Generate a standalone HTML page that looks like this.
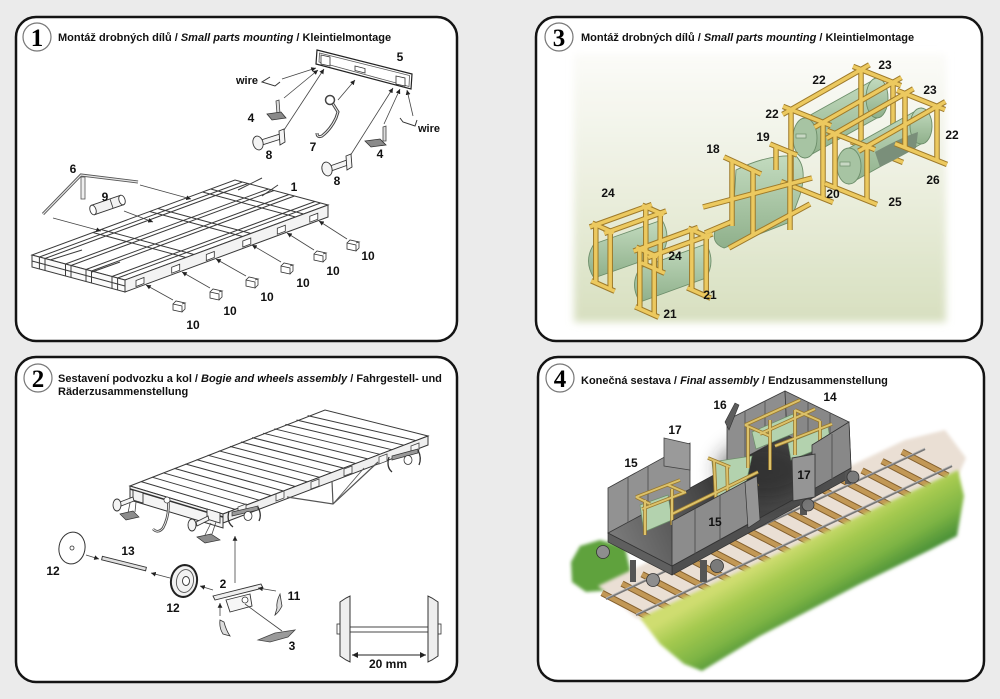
<!DOCTYPE html>
<html><head><meta charset="utf-8"><title>Assembly</title>
<style>
html,body{margin:0;padding:0;background:#ebebeb;}
svg{display:block}
.t{font-family:"Liberation Sans",Arial,sans-serif;font-weight:bold;font-size:11px;fill:#111}
.n{font-family:"Liberation Sans",Arial,sans-serif;font-weight:bold;font-size:12px;fill:#111;text-anchor:middle}
.c{font-family:"Liberation Serif",serif;font-weight:bold;font-size:25px;fill:#000;text-anchor:middle}
.la{fill:none;stroke:#3a3a3a;stroke-width:1}
.lf{fill:#fff;stroke:#3a3a3a;stroke-width:1}
.gd{fill:none;stroke:#444;stroke-width:0.8}
</style></head><body>
<svg width="1000" height="699" viewBox="0 0 1000 699" xmlns="http://www.w3.org/2000/svg">
<defs>
<marker id="ar" viewBox="0 0 6 6" refX="6" refY="3" markerWidth="6" markerHeight="6" orient="auto-start-reverse"><path d="M0,0L6,3L0,6z" fill="#222"/></marker>
<linearGradient id="g3" x1="0" y1="0" x2="0" y2="1"><stop offset="0" stop-color="#fbfbf8"/><stop offset="0.45" stop-color="#edf0e1"/><stop offset="1" stop-color="#d7dfbf"/></linearGradient>
<filter id="bl" x="-5%" y="-5%" width="110%" height="110%"><feGaussianBlur stdDeviation="4"/></filter>
<filter id="bl2" x="-30%" y="-30%" width="160%" height="160%"><feGaussianBlur stdDeviation="10"/></filter>
<filter id="bl1" x="-5%" y="-5%" width="110%" height="110%"><feGaussianBlur stdDeviation="1.5"/></filter>
<linearGradient id="tank" x1="0" y1="0" x2="0" y2="1"><stop offset="0" stop-color="#c3dbbf"/><stop offset="1" stop-color="#8fb08b"/></linearGradient>
<linearGradient id="grass" gradientUnits="userSpaceOnUse" x1="795" y1="545" x2="830" y2="606"><stop offset="0" stop-color="#cfdd70"/><stop offset="0.3" stop-color="#a6ca50"/><stop offset="0.7" stop-color="#7db444"/><stop offset="1" stop-color="#4c9238"/></linearGradient>
<linearGradient id="floor" gradientUnits="userSpaceOnUse" x1="610" y1="540" x2="850" y2="440"><stop offset="0" stop-color="#7c7c7c"/><stop offset="0.45" stop-color="#3e3e3e"/><stop offset="1" stop-color="#5c5c5c"/></linearGradient>

<g id="cr3">
<line x1="592.2" y1="223.2" x2="613.8" y2="232.8"/>
<line x1="595.8" y1="224.8" x2="595.8" y2="282.8"/>
<line x1="610.2" y1="231.2" x2="610.2" y2="289.2"/>
<line x1="591.3" y1="280.8" x2="614.7" y2="291.2"/>
<line x1="642.2" y1="205.2" x2="663.8" y2="214.8"/>
<line x1="645.8" y1="206.8" x2="645.8" y2="264.8"/>
<line x1="660.2" y1="213.2" x2="660.2" y2="271.2"/>
<line x1="641.3" y1="262.8" x2="664.7" y2="273.2"/>
<line x1="589.8" y1="227" x2="651.8" y2="204.6"/>
<line x1="604.2" y1="233.4" x2="666.2" y2="211"/>
<line x1="636.2" y1="247.2" x2="657.8" y2="256.8"/>
<line x1="639.8" y1="248.8" x2="639.8" y2="308.8"/>
<line x1="654.2" y1="255.2" x2="654.2" y2="315.2"/>
<line x1="635.3" y1="306.8" x2="658.7" y2="317.2"/>
<line x1="688.2" y1="228.2" x2="709.8" y2="237.8"/>
<line x1="691.8" y1="229.8" x2="691.8" y2="289.8"/>
<line x1="706.2" y1="236.2" x2="706.2" y2="296.2"/>
<line x1="687.3" y1="287.8" x2="710.7" y2="298.2"/>
<line x1="633.6" y1="251.1" x2="698" y2="227.5"/>
<line x1="648" y1="257.5" x2="712.4" y2="233.9"/>
<line x1="724" y1="157" x2="761" y2="174"/>
<line x1="770" y1="144" x2="797" y2="155"/>
<line x1="732" y1="160" x2="732" y2="226"/>
<line x1="753" y1="169" x2="753" y2="236"/>
<line x1="790" y1="151" x2="790" y2="230"/>
<line x1="776" y1="147" x2="776" y2="170"/>
<line x1="703" y1="207" x2="812" y2="178"/>
<line x1="729" y1="248" x2="810" y2="204"/>
<line x1="705" y1="233" x2="731" y2="222"/>
</g>
<g id="crR1">
<line x1="783" y1="106.4" x2="831" y2="125.6"/>
<line x1="791" y1="109.6" x2="791" y2="185.6"/>
<line x1="823" y1="122.4" x2="823" y2="198.4"/>
<line x1="781" y1="181.6" x2="833" y2="202.4"/>
<line x1="853" y1="66.4" x2="901" y2="85.6"/>
<line x1="861" y1="69.6" x2="861" y2="145.6"/>
<line x1="893" y1="82.4" x2="893" y2="158.4"/>
<line x1="851" y1="141.6" x2="903" y2="162.4"/>
<line x1="782.6" y1="114.4" x2="869.4" y2="64.8"/>
<line x1="814.6" y1="127.2" x2="901.4" y2="77.6"/>
</g>
<g id="crR2">
<line x1="827" y1="130.4" x2="875" y2="149.6"/>
<line x1="835" y1="133.6" x2="835" y2="187.6"/>
<line x1="867" y1="146.4" x2="867" y2="200.4"/>
<line x1="825" y1="183.6" x2="877" y2="204.4"/>
<line x1="897" y1="90.4" x2="945" y2="109.6"/>
<line x1="905" y1="93.6" x2="905" y2="147.6"/>
<line x1="937" y1="106.4" x2="937" y2="160.4"/>
<line x1="895" y1="143.6" x2="947" y2="164.4"/>
<line x1="826.6" y1="138.4" x2="913.4" y2="88.8"/>
<line x1="858.6" y1="151.2" x2="945.4" y2="101.6"/>
</g>
<g id="cr4">
<line x1="636" y1="497" x2="680" y2="480"/>
<line x1="642" y1="509" x2="686" y2="492"/>
<line x1="636" y1="497" x2="650" y2="504"/>
<line x1="668" y1="485" x2="684" y2="492"/>
<line x1="645" y1="500" x2="645" y2="535"/>
<line x1="672" y1="489" x2="672" y2="525"/>
<line x1="708" y1="458" x2="730" y2="467"/>
<line x1="714" y1="460" x2="716" y2="503"/>
<line x1="727" y1="465" x2="728" y2="506"/>
<line x1="672" y1="514" x2="758" y2="472"/>
<line x1="680" y1="524" x2="758" y2="484"/>
<line x1="745" y1="425" x2="800" y2="400"/>
<line x1="760" y1="434" x2="815" y2="409"/>
<line x1="745" y1="425" x2="770" y2="436"/>
<line x1="795" y1="410" x2="820" y2="421"/>
<line x1="748" y1="426" x2="748" y2="468"/>
<line x1="770" y1="420" x2="770" y2="470"/>
<line x1="795" y1="410" x2="795" y2="455"/>
<line x1="820" y1="421" x2="820" y2="460"/>
<line x1="775" y1="446" x2="832" y2="424"/>
</g>
<g id="slp">
<line x1="602" y1="593" x2="650" y2="618"/>
<line x1="622" y1="583.6" x2="670" y2="608.6"/>
<line x1="642" y1="574.2" x2="690" y2="599.2"/>
<line x1="662" y1="564.7" x2="710" y2="589.7"/>
<line x1="682" y1="555.3" x2="730" y2="580.3"/>
<line x1="702" y1="545.9" x2="750" y2="570.9"/>
<line x1="722" y1="536.5" x2="770" y2="561.5"/>
<line x1="742" y1="527.1" x2="790" y2="552.1"/>
<line x1="762" y1="517.6" x2="810" y2="542.6"/>
<line x1="782" y1="508.2" x2="830" y2="533.2"/>
<line x1="802" y1="498.8" x2="850" y2="523.8"/>
<line x1="822" y1="489.4" x2="870" y2="514.4"/>
<line x1="842" y1="480" x2="890" y2="505"/>
<line x1="862" y1="470.5" x2="910" y2="495.5"/>
<line x1="882" y1="461.1" x2="930" y2="486.1"/>
<line x1="902" y1="451.7" x2="948" y2="475.7"/>
</g>
</defs>

<!-- PANELS -->
<rect x="16" y="17" width="441" height="324" rx="20" fill="#fff" stroke="#141414" stroke-width="2.5"/>
<rect x="536" y="17" width="446" height="324" rx="20" fill="#fff" stroke="#141414" stroke-width="2.5"/>
<rect x="16" y="357" width="441" height="325" rx="20" fill="#fff" stroke="#141414" stroke-width="2.5"/>
<rect x="538" y="357" width="446" height="324" rx="20" fill="#fff" stroke="#141414" stroke-width="2.5"/>

<circle cx="37" cy="37" r="14" fill="#fff" stroke="#777" stroke-width="1.2"/>
<text class="c" x="37" y="46">1</text>
<text class="t" x="58" y="41">Montáž drobných dílů / <tspan font-style="italic">Small parts mounting</tspan> / Kleintielmontage</text>

<circle cx="559" cy="37" r="14" fill="#fff" stroke="#777" stroke-width="1.2"/>
<text class="c" x="559" y="46">3</text>
<text class="t" x="581" y="41">Montáž drobných dílů / <tspan font-style="italic">Small parts mounting</tspan> / Kleintielmontage</text>

<circle cx="38" cy="378" r="14" fill="#fff" stroke="#777" stroke-width="1.2"/>
<text class="c" x="38" y="387">2</text>
<text class="t" x="58" y="382">Sestavení podvozku a kol / <tspan font-style="italic">Bogie and wheels assembly</tspan> / Fahrgestell- und</text>
<text class="t" x="58" y="395">Räderzusammenstellung</text>

<circle cx="560" cy="378" r="14" fill="#fff" stroke="#777" stroke-width="1.2"/>
<text class="c" x="560" y="387">4</text>
<text class="t" x="581" y="384">Konečná sestava / <tspan font-style="italic">Final assembly</tspan> / Endzusammenstellung</text>

<!-- ========== PANEL 1 ========== -->
<g>
<polygon class="lf" points="32,255 125,280 328,205 235,180"/>
<polygon points="125,280 328,205 328,217 125,292" fill="#f3f3f3" stroke="#3a3a3a" stroke-width="1"/>
<polygon points="32,255 125,280 125,292 32,267" fill="#fafafa" stroke="#3a3a3a" stroke-width="1"/>
<g class="la" stroke-width="0.8">
<line x1="39.4" y1="257" x2="242.4" y2="182"/>
<line x1="45" y1="258.5" x2="248" y2="183.5"/>
<line x1="65.5" y1="264" x2="268.5" y2="189"/>
<line x1="71" y1="265.5" x2="274" y2="190.5"/>
<line x1="86" y1="269.5" x2="289" y2="194.5"/>
<line x1="91.5" y1="271" x2="294.5" y2="196"/>
<line x1="112" y1="276.5" x2="315" y2="201.5"/>
<line x1="117.6" y1="278" x2="320.6" y2="203"/>
<line x1="92.9" y1="232.5" x2="185.9" y2="257.5"/>
<line x1="101" y1="229.5" x2="194" y2="254.5"/>
<line x1="149.7" y1="211.5" x2="242.7" y2="236.5"/>
<line x1="157.9" y1="208.5" x2="250.9" y2="233.5"/>
<line x1="202.5" y1="192" x2="295.5" y2="217"/>
<line x1="210.6" y1="189" x2="303.6" y2="214"/>
<line x1="50" y1="260" x2="82" y2="250"/>
<line x1="92" y1="272" x2="120" y2="262"/>
<line x1="238" y1="190" x2="262" y2="178"/>
<line x1="262" y1="196" x2="278" y2="185"/>
<line x1="39.4" y1="257" x2="39.4" y2="269"/>
<line x1="45" y1="258.5" x2="45" y2="270.5"/>
<line x1="65.5" y1="264" x2="65.5" y2="276"/>
<line x1="71" y1="265.5" x2="71" y2="277.5"/>
<line x1="86" y1="269.5" x2="86" y2="281.5"/>
<line x1="91.5" y1="271" x2="91.5" y2="283"/>
<line x1="112" y1="276.5" x2="112" y2="288.5"/>
<line x1="117.6" y1="278" x2="117.6" y2="290"/>
<line x1="32" y1="261" x2="125" y2="286"/>
</g>
<g fill="#fff" stroke="#333" stroke-width="0.8">
<polygon points="136,280.5 144,277.5 144,283.5 136,286.5"/>
<polygon points="171.7,267.2 179.7,264.2 179.7,270.2 171.7,273.2"/>
<polygon points="206.3,254.5 214.3,251.5 214.3,257.5 206.3,260.5"/>
<polygon points="242.8,241 250.8,238 250.8,244 242.8,247"/>
<polygon points="277.3,228.2 285.3,225.2 285.3,231.2 277.3,234.2"/>
<polygon points="309.8,216.2 317.8,213.2 317.8,219.2 309.8,222.2"/>
</g>
<g fill="#fff" stroke="#333" stroke-width="0.8">
<path d="M173,304 l9,2 l0,6 l-9,-2 z M173,304 l3,-3 l9,2 l-3,1 M185,303 l0,6 l-3,3"/>
<path d="M210,292 l9,2 l0,6 l-9,-2 z M210,292 l3,-3 l9,2 l-3,1 M222,291 l0,6 l-3,3"/>
<path d="M246,280 l9,2 l0,6 l-9,-2 z M246,280 l3,-3 l9,2 l-3,1 M258,279 l0,6 l-3,3"/>
<path d="M281,266 l9,2 l0,6 l-9,-2 z M281,266 l3,-3 l9,2 l-3,1 M293,265 l0,6 l-3,3"/>
<path d="M314,254 l9,2 l0,6 l-9,-2 z M314,254 l3,-3 l9,2 l-3,1 M326,253 l0,6 l-3,3"/>
<path d="M347,243 l9,2 l0,6 l-9,-2 z M347,243 l3,-3 l9,2 l-3,1 M359,242 l0,6 l-3,3"/>
</g>
<g class="gd" marker-end="url(#ar)">
<line x1="173" y1="300" x2="146" y2="285"/>
<line x1="210" y1="288" x2="182" y2="272"/>
<line x1="246" y1="276" x2="216" y2="259"/>
<line x1="281" y1="262" x2="252" y2="245"/>
<line x1="314" y1="250" x2="287" y2="233"/>
<line x1="347" y1="239" x2="319" y2="221"/>
<line x1="140" y1="185" x2="191" y2="199"/>
<line x1="53" y1="218" x2="101" y2="231"/>
<line x1="124" y1="211" x2="153" y2="222"/>
<line x1="282" y1="79" x2="316" y2="68"/>
<line x1="284" y1="98" x2="318" y2="70"/>
<line x1="284" y1="130" x2="324" y2="69"/>
<line x1="338" y1="100" x2="355" y2="80"/>
<line x1="350" y1="156" x2="393" y2="88"/>
<line x1="384" y1="124" x2="400" y2="89"/>
<line x1="413" y1="116" x2="407" y2="90"/>
</g>
<text class="n" x="193" y="329">10</text>
<text class="n" x="230" y="315">10</text>
<text class="n" x="267" y="301">10</text>
<text class="n" x="303" y="287">10</text>
<text class="n" x="333" y="275">10</text>
<text class="n" x="368" y="260">10</text>
<polyline points="43,214 81,175 138,182" fill="none" stroke="#555" stroke-width="3"/>
<polyline points="43,214 81,175 138,182" fill="none" stroke="#e6e6e6" stroke-width="1.2"/>
<rect x="81" y="177" width="4" height="22" fill="#eee" stroke="#555" stroke-width="0.8"/>
<text class="n" x="73" y="173">6</text>
<polygon points="91.4,205.3 120.4,195.3 123.6,204.7 94.6,214.7" fill="#f2f2f2" stroke="#333" stroke-width="0.9"/>
<ellipse cx="93" cy="210" rx="3" ry="5" transform="rotate(-19 93 210)" fill="#fff" stroke="#333" stroke-width="0.9"/>
<ellipse cx="122" cy="200" rx="3" ry="5" transform="rotate(-19 122 200)" fill="#fff" stroke="#333" stroke-width="0.9"/>
<line x1="110" y1="199" x2="113" y2="208" stroke="#333" stroke-width="0.8"/>
<text class="n" x="105" y="201">9</text>
<text class="n" x="294" y="191">1</text>
<polygon points="317,50 412,74 411,89 316,64" fill="#fff" stroke="#222" stroke-width="1.2"/>
<polygon points="319.5,53 409.5,75.5 409,86.5 319,62" fill="none" stroke="#555" stroke-width="0.8"/>
<polygon points="321,55 330,57 330,66 321,64" fill="#fff" stroke="#333" stroke-width="0.8"/>
<polygon points="355,66 365,68.5 365,73 355,70.5" fill="#fff" stroke="#333" stroke-width="0.8"/>
<polygon points="396,76 405,78 405,86 396,84" fill="#fff" stroke="#333" stroke-width="0.8"/>
<text class="n" x="400" y="61">5</text>
<polyline points="270,77 262,82 275,86 280,82" fill="none" stroke="#333" stroke-width="1"/>
<polyline points="400,118 403,122 415,126 417,120" fill="none" stroke="#333" stroke-width="1"/>
<text class="n" x="247" y="84" style="font-size:11px">wire</text>
<text class="n" x="429" y="132" style="font-size:11px">wire</text>
<polygon points="276,101 279,100 280,114 277,114" fill="#ddd" stroke="#444" stroke-width="0.8"/>
<polygon points="267,114 281,112 286,118 272,120" fill="#8a8a8a" stroke="#333" stroke-width="0.8"/>
<polygon points="383,127 386,126 386,141 383,141" fill="#ddd" stroke="#444" stroke-width="0.8"/>
<polygon points="365,141 380,139 386,145 371,147" fill="#8a8a8a" stroke="#333" stroke-width="0.8"/>
<text class="n" x="251" y="122">4</text>
<text class="n" x="380" y="158">4</text>
<g fill="#f4f4f4" stroke="#333" stroke-width="0.9">
<polygon points="261,140 280,134 281,139 262,145"/>
<polygon points="279,131 284,129 285,142 280,145"/>
<ellipse cx="258" cy="143" rx="5" ry="7" transform="rotate(-15 258 143)"/>
<polygon points="330,166 347,160 348,165 331,171"/>
<polygon points="346,156 351,154 352,167 347,170"/>
<ellipse cx="327" cy="169" rx="5" ry="7" transform="rotate(-15 327 169)"/>
</g>
<text class="n" x="269" y="159">8</text>
<text class="n" x="337" y="185">8</text>
<circle cx="330" cy="100" r="4.5" fill="none" stroke="#444" stroke-width="1.5"/>
<path d="M333,104 L338,112 L336,118 Q331,129 322,136 Q317,138 317,133" fill="none" stroke="#444" stroke-width="3"/>
<path d="M333,104 L338,112 L336,118 Q331,129 322,136 Q317,138 317,133" fill="none" stroke="#eee" stroke-width="1"/>
<text class="n" x="313" y="151">7</text>
</g>

<!-- ========== PANEL 3 ========== -->
<rect x="574" y="54" width="372" height="268" fill="url(#g3)" filter="url(#bl)"/>
<g fill="url(#tank)" stroke="#6d8e6a" stroke-width="0.9">
<path d="M594,244 L662,220 Q672,237 662,254 L594,278 Q583,261 594,244 Z"/>
<path d="M736,170 Q768,154 796,156 Q808,168 800,195 L790,222 L724,248 Q710,243 716,228 L733,218 Z"/>
<path d="M805,118 L877,78 L877,118 L805,158 Z"/>
<ellipse cx="877" cy="98" rx="11" ry="20"/>
<ellipse cx="805" cy="138" rx="12" ry="20" fill="#a7c4a3"/>
</g>
<rect x="796" y="134" width="10" height="4" fill="#c8d8c4" stroke="#6d8e6a" stroke-width="0.7"/>
<use href="#crR1" stroke="#9e7a2a" stroke-width="5.5"/>
<use href="#crR1" stroke="#ecc95f" stroke-width="3.5"/>
<g fill="url(#tank)" stroke="#6d8e6a" stroke-width="0.9">
<path d="M849,148 L921,108 L921,144 L849,184 Z"/>
<ellipse cx="921" cy="126" rx="11" ry="18"/>
<path d="M875,152 Q900,138 918,132 L916,148 Q895,160 880,167 Z" fill="#7a8f7a" stroke="none"/>
<ellipse cx="849" cy="166" rx="12" ry="18" fill="#a7c4a3"/>
</g>
<rect x="840" y="162" width="10" height="4" fill="#c8d8c4" stroke="#6d8e6a" stroke-width="0.7"/>
<use href="#crR2" stroke="#9e7a2a" stroke-width="5.5"/>
<use href="#crR2" stroke="#ecc95f" stroke-width="3.5"/>
<g fill="url(#tank)" stroke="#6d8e6a" stroke-width="0.9">
<path d="M640,268 L706,244 Q716,261 706,278 L640,302 Q629,285 640,268 Z"/>
</g>
<use href="#cr3" stroke="#9e7a2a" stroke-width="5.5"/>
<use href="#cr3" stroke="#ecc95f" stroke-width="3.5"/>
<text class="n" x="885" y="69">23</text>
<text class="n" x="819" y="84">22</text>
<text class="n" x="930" y="94">23</text>
<text class="n" x="772" y="118">22</text>
<text class="n" x="952" y="139">22</text>
<text class="n" x="763" y="141">19</text>
<text class="n" x="713" y="153">18</text>
<text class="n" x="933" y="184">26</text>
<text class="n" x="833" y="198">20</text>
<text class="n" x="895" y="206">25</text>
<text class="n" x="608" y="197">24</text>
<text class="n" x="675" y="260">24</text>
<text class="n" x="710" y="299">21</text>
<text class="n" x="670" y="318">21</text>

<!-- ========== PANEL 2 ========== -->
<g>
<polygon class="lf" points="130,486 223,514 428,436 325,410"/>
<polygon points="130,486 223,514 223,528 130,500" fill="#f4f4f4" stroke="#333" stroke-width="1"/>
<line x1="130" y1="489" x2="223" y2="517" stroke="#333" stroke-width="1.5"/>
<polygon points="223,514 428,436 428,445 223,523" fill="#efefef" stroke="#333" stroke-width="1"/>
<g class="la" stroke-width="0.7">
<line x1="141.1" y1="481.6" x2="235.1" y2="509.4"/>
<line x1="152.2" y1="477.2" x2="247.1" y2="504.8"/>
<line x1="163.3" y1="472.8" x2="259.2" y2="500.2"/>
<line x1="174.4" y1="468.4" x2="271.2" y2="495.6"/>
<line x1="185.5" y1="464" x2="283.3" y2="491"/>
<line x1="196.6" y1="459.6" x2="295.4" y2="486.5"/>
<line x1="207.7" y1="455.2" x2="307.4" y2="481.9"/>
<line x1="218.8" y1="450.8" x2="319.5" y2="477.3"/>
<line x1="229.9" y1="446.4" x2="331.5" y2="472.7"/>
<line x1="241" y1="442" x2="343.6" y2="468.1"/>
<line x1="252.1" y1="437.6" x2="355.7" y2="463.5"/>
<line x1="263.2" y1="433.2" x2="367.7" y2="458.9"/>
<line x1="274.3" y1="428.8" x2="379.8" y2="454.3"/>
<line x1="285.4" y1="424.4" x2="391.8" y2="449.7"/>
<line x1="296.5" y1="420" x2="403.9" y2="445.2"/>
<line x1="307.6" y1="415.6" x2="416" y2="440.6"/>
</g>
<g fill="#f6f6f6" stroke="#444" stroke-width="0.8">
<polygon points="238,507 246,504 246,511 238,514"/>
<polygon points="276,494 284,491 284,498 276,501"/>
<polygon points="311,482 319,479 319,486 311,489"/>
<polygon points="344,469 352,466 352,473 344,476"/>
<polygon points="379,457 387,454 387,461 379,464"/>
<polygon points="411,446 419,443 419,450 411,453"/>
</g>
<polyline points="287,497 333,504 378,462" fill="none" stroke="#555" stroke-width="1.2"/>
<line x1="333" y1="504" x2="364" y2="468" stroke="#555" stroke-width="0.9"/>
<line x1="332" y1="481" x2="333" y2="504" stroke="#555" stroke-width="1.2"/>
<g fill="#f4f4f4" stroke="#333" stroke-width="0.9">
<polygon points="133,490 143,493 143,503 133,500"/>
<polygon points="120,502 133,497 134,501 121,506"/>
<ellipse cx="117" cy="505" rx="4" ry="6"/>
<polygon points="207,509 220,513 220,523 207,519"/>
<polygon points="196,522 208,516 209,520 197,526"/>
<ellipse cx="192" cy="525" rx="4" ry="6"/>
</g>
<g stroke="#444" stroke-width="0.8">
<line x1="130" y1="503" x2="128" y2="513"/><line x1="136" y1="502" x2="135" y2="512"/>
<line x1="211" y1="523" x2="205" y2="535"/><line x1="216" y1="522" x2="212" y2="534"/>
</g>
<polygon points="120,514 133,511 139,517 126,520" fill="#8c8c8c" stroke="#333" stroke-width="0.7"/>
<polygon points="197,537 211,534 220,540 205,543" fill="#8c8c8c" stroke="#333" stroke-width="0.7"/>
<path d="M168,499 Q170,515 163,528 Q158,534 153,529" fill="none" stroke="#444" stroke-width="2.6"/>
<path d="M168,499 Q170,515 163,528 Q158,534 153,529" fill="none" stroke="#f0f0f0" stroke-width="0.9"/>
<circle cx="167" cy="500" r="3" fill="#fff" stroke="#444" stroke-width="0.8"/>
<polygon points="232,512 258,506 258,510 232,516" fill="#999" stroke="#333" stroke-width="0.7"/>
<ellipse cx="248" cy="516" rx="4" ry="4.5" fill="#fff" stroke="#333" stroke-width="0.8"/>
<path d="M229,511 Q226,522 233,527 M258,507 Q262,515 259,521" fill="none" stroke="#333" stroke-width="1.3"/>
<polygon points="392,456 418,449 418,453 392,460" fill="#999" stroke="#333" stroke-width="0.7"/>
<ellipse cx="408" cy="460" rx="4" ry="4.5" fill="#fff" stroke="#333" stroke-width="0.8"/>
<path d="M389,457 Q386,467 392,472 M418,450 Q422,458 419,465" fill="none" stroke="#333" stroke-width="1.3"/>
<ellipse cx="72" cy="548" rx="13" ry="16" transform="rotate(10 72 548)" fill="#fff" stroke="#333" stroke-width="1"/>
<circle cx="72" cy="548" r="2" fill="#fff" stroke="#333" stroke-width="0.8"/>
<polygon points="102.4,556.3 146.4,567.3 145.6,570.8 101.6,559.8" fill="#e0e0e0" stroke="#333" stroke-width="0.9"/>
<ellipse cx="184" cy="581" rx="13" ry="16" transform="rotate(10 184 581)" fill="#f2f2f2" stroke="#222" stroke-width="2"/>
<ellipse cx="185" cy="581" rx="8.5" ry="11.5" transform="rotate(10 185 581)" fill="none" stroke="#555" stroke-width="0.9"/>
<ellipse cx="186" cy="581" rx="3.5" ry="4.5" fill="#fff" stroke="#333" stroke-width="0.9"/>
<polygon points="213,596 261,584 263,588 215,600" fill="#eee" stroke="#333" stroke-width="0.9"/>
<polygon points="226,600 250,594 252,606 230,612" fill="#f6f6f6" stroke="#333" stroke-width="0.9"/>
<circle cx="245" cy="600" r="3" fill="#fff" stroke="#333" stroke-width="0.8"/>
<path d="M280,594 Q276,602 277,608 L275,615 Q279,612 282,606 Z" fill="#ddd" stroke="#333" stroke-width="0.8"/>
<path d="M220,620 Q219,628 223,634 L230,636 Q226,630 224,622 Z" fill="#ddd" stroke="#333" stroke-width="0.8"/>
<line x1="245" y1="604" x2="282" y2="631" stroke="#444" stroke-width="0.8"/>
<polygon points="258,640 275,633 295,630 288,637 270,642" fill="#9a9a9a" stroke="#444" stroke-width="0.8"/>
<g class="gd" marker-end="url(#ar)">
<line x1="86" y1="555" x2="99" y2="559"/>
<line x1="170" y1="578" x2="151" y2="573"/>
<line x1="213" y1="590" x2="200" y2="586"/>
<line x1="235" y1="583" x2="235" y2="536"/>
<line x1="276" y1="591" x2="258" y2="588"/>
<line x1="220" y1="616" x2="220" y2="603"/>
</g>
<text class="n" x="53" y="575">12</text>
<text class="n" x="128" y="555">13</text>
<text class="n" x="173" y="612">12</text>
<text class="n" x="223" y="588">2</text>
<text class="n" x="294" y="600">11</text>
<text class="n" x="292" y="650">3</text>
<rect x="337" y="624" width="5" height="10" fill="#fff" stroke="#333" stroke-width="0.8"/>
<rect x="436" y="624" width="5" height="10" fill="#fff" stroke="#333" stroke-width="0.8"/>
<rect x="350" y="627" width="78" height="5" fill="#fff" stroke="#333" stroke-width="0.9"/>
<polygon points="340,602 346,598 350,596 350,662 346,660 340,656" fill="#eee" stroke="#333" stroke-width="1"/>
<polygon points="438,602 432,598 428,596 428,662 432,660 438,656" fill="#eee" stroke="#333" stroke-width="1"/>
<line x1="352" y1="655" x2="426" y2="655" stroke="#222" stroke-width="1" marker-start="url(#ar)" marker-end="url(#ar)"/>
<text class="n" x="388" y="668">20 mm</text>
</g>

<!-- ========== PANEL 4 ========== -->
<g>
<polygon points="571,562 580,546 600,540 625,547 631,574 614,590 586,592 572,582" fill="#5ea23c" filter="url(#bl1)"/>
<polygon points="598,586 905,440 945,430 966,458 958,476 652,622 636,618" fill="#eadfd4" filter="url(#bl1)"/>
<use href="#slp" stroke="#84602e" stroke-width="6.5"/>
<use href="#slp" stroke="#c29856" stroke-width="4.5"/>
<line x1="606" y1="599" x2="925" y2="449" stroke="#777" stroke-width="2.2"/>
<line x1="636" y1="615" x2="952" y2="466" stroke="#777" stroke-width="2.2"/>
<line x1="606" y1="598" x2="925" y2="448" stroke="#bbb" stroke-width="0.8"/>
<line x1="636" y1="614" x2="952" y2="465" stroke="#bbb" stroke-width="0.8"/>
<polygon points="640,618 958,470 964,496 957,536 930,550 860,584 760,636 702,671 684,664 660,644" fill="url(#grass)" filter="url(#bl1)"/>
<!-- wagon chassis -->
<polygon points="672,566 851,468 851,477 672,575" fill="#4f4f4f" stroke="#333" stroke-width="0.7"/>
<polygon points="608,533 672,566 672,575 608,542" fill="#5f5f5f" stroke="#333" stroke-width="0.7"/>
<rect x="630" y="560" width="6" height="22" fill="#555"/>
<rect x="700" y="560" width="7" height="22" fill="#555"/>
<rect x="800" y="495" width="7" height="20" fill="#555"/>
<rect x="845" y="468" width="6" height="16" fill="#555"/>
<circle cx="603" cy="552" r="6.5" fill="#8e8e8e" stroke="#333" stroke-width="0.8"/>
<circle cx="653" cy="580" r="6.5" fill="#8e8e8e" stroke="#333" stroke-width="0.8"/>
<circle cx="717" cy="566" r="6.5" fill="#7a7a7a" stroke="#333" stroke-width="0.8"/>
<circle cx="808" cy="505" r="6" fill="#7a7a7a" stroke="#333" stroke-width="0.8"/>
<circle cx="853" cy="477" r="6" fill="#7a7a7a" stroke="#333" stroke-width="0.8"/>
<polygon points="608,533 787,435 851,468 672,566" fill="url(#floor)" stroke="#333" stroke-width="0.8"/>
<ellipse cx="765" cy="470" rx="48" ry="30" fill="#222" opacity="0.55" filter="url(#bl2)"/>
<!-- back walls -->
<polygon points="608,488 690,443 690,489 608,533" fill="#929292" stroke="#3a3a3a" stroke-width="0.8"/>
<polygon points="664,438 690,444 690,470 664,466" fill="#9a9a9a" stroke="#444" stroke-width="0.8"/>
<polygon points="727,420 785,391 787,435 727,467" fill="#8e8e8e" stroke="#3a3a3a" stroke-width="0.8"/>
<polygon points="725,422 735,403 739,405 729,430" fill="#5c5c5c" stroke="#333" stroke-width="0.6"/>
<polygon points="785,391 849,422 851,468 787,435" fill="#888" stroke="#3a3a3a" stroke-width="0.8"/>
<g stroke="#5e5e5e" stroke-width="1.1">
<line x1="628" y1="477" x2="628" y2="522"/>
<line x1="648" y1="466" x2="648" y2="511"/>
<line x1="745" y1="411" x2="745" y2="457.4"/>
<line x1="765" y1="401" x2="765" y2="446.7"/>
<line x1="808" y1="402.8" x2="808" y2="445.8"/>
<line x1="830" y1="413.5" x2="830" y2="457.2"/>
</g>
<g fill="#b3d2ae" stroke="#6d8e6a" stroke-width="0.7">
<polygon points="640,505 668,495 672,520 644,532"/>
<polygon points="712,462 752,456 745,488 716,500"/>
<polygon points="752,432 793,414 797,432 756,449"/>
<polygon points="788,443 828,427 831,444 791,460"/>
</g>
<use href="#cr4" stroke="#98782e" stroke-width="3.6"/>
<use href="#cr4" stroke="#dcc26a" stroke-width="2"/>
<!-- front walls -->
<polygon points="672,521 752,478 752,522 672,566" fill="#8c8c8c" stroke="#333" stroke-width="0.8"/>
<polygon points="745,482 757,476 760,520 748,528" fill="#959595" stroke="#333" stroke-width="0.7"/>
<polygon points="812,445 849,422 851,468 812,490" fill="#888" stroke="#333" stroke-width="0.8"/>
<polygon points="792,458 815,454 815,497 793,501" fill="#959595" stroke="#3a3a3a" stroke-width="0.9"/>
<g stroke="#5a5a5a" stroke-width="1.1">
<line x1="695" y1="509" x2="695" y2="553.4"/>
<line x1="720" y1="495.5" x2="720" y2="539.7"/>
<line x1="832" y1="434" x2="832" y2="479"/>
</g>
<text class="n" x="830" y="401">14</text>
<text class="n" x="720" y="409">16</text>
<text class="n" x="675" y="434">17</text>
<text class="n" x="631" y="467">15</text>
<text class="n" x="804" y="479">17</text>
<text class="n" x="715" y="526">15</text>
</g>
</svg>
</body></html>
